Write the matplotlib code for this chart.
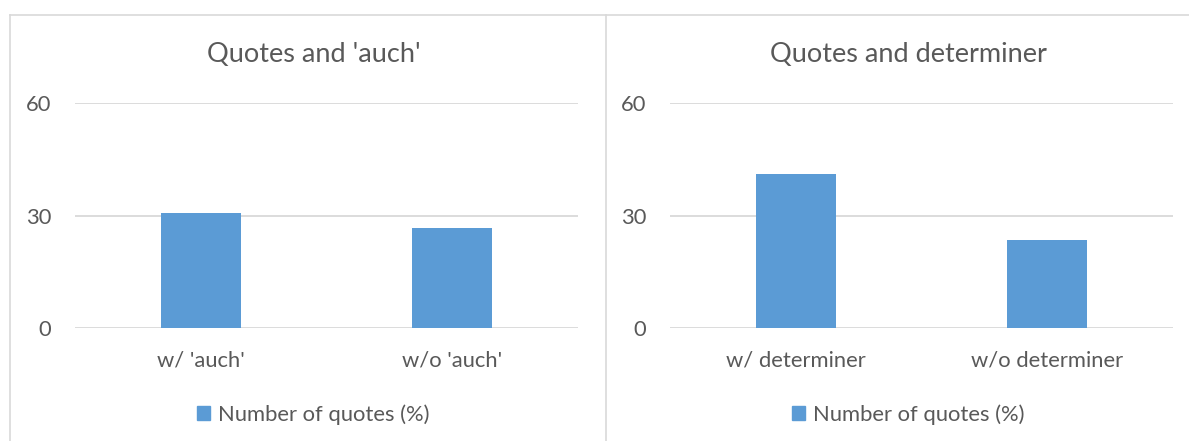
import matplotlib
matplotlib.use("Agg")
import matplotlib.pyplot as plt
from matplotlib.lines import Line2D
from matplotlib.patches import Patch

# data
titles = ["Quotes and 'auch'", "Quotes and determiner"]
cats_auch = ["w/ 'auch'", "w/o 'auch'"]
vals_auch = [30.7, 26.7]
cats_det = ["w/ determiner", "w/o determiner"]
vals_det = [41.1, 23.5]
yticks = [0, 30, 60]
series_name = "Number of quotes (%)"

BAR = "#5b9bd5"
GRID = "#d9d9d9"
TXT = "#595959"
FONT = "Lato"

W, H = 1189, 441
fig = plt.figure(figsize=(W / 100, H / 100), dpi=100)

def px(x0, y0, x1, y1):
    # pixel box (top-left origin) -> figure fraction rect
    return [x0 / W, 1 - y1 / H, (x1 - x0) / W, (y1 - y0) / H]

def panel(rect, title, cats, vals):
    ax = fig.add_axes(rect)
    ax.bar(range(len(cats)), vals, width=0.32, color=BAR, zorder=3)
    ax.set_xlim(-0.5, len(cats) - 0.5)
    ax.set_ylim(0, 60)
    ax.set_yticks(yticks)
    ax.set_xticks(range(len(cats)))
    ax.set_xticklabels(cats)
    ax.yaxis.grid(True, color=GRID, lw=1.3, zorder=0)
    ax.set_axisbelow(True)
    for s in ax.spines.values():
        s.set_visible(False)
    ax.tick_params(length=0, labelcolor=TXT, labelsize=15.8)
    ax.tick_params(axis="y", pad=17)
    ax.tick_params(axis="x", pad=16.5)
    for lab in ax.get_xticklabels() + ax.get_yticklabels():
        lab.set_family(FONT)
    # title and legend are centred on the chart area, a bit left of the plot
    ax.set_title(title, color=TXT, fontsize=19.5, family=FONT, pad=29.5,
                 x=0.474)
    leg = ax.legend([Patch(color=BAR)], [series_name], loc="upper center",
                    bbox_to_anchor=(0.474, -0.29), frameon=False,
                    handlelength=0.6, handleheight=0.6, handletextpad=0.36,
                    borderpad=0, prop={"family": FONT, "size": 15.8})
    for t in leg.get_texts():
        t.set_color(TXT)
    return ax

panel(px(75, 103, 578, 328), titles[0], cats_auch, vals_auch)
panel(px(670, 103, 1173, 328), titles[1], cats_det, vals_det)

# chart-area borders
def fline(xs, ys):
    fig.add_artist(Line2D([x / W for x in xs], [1 - y / H for y in ys],
                          color=GRID, lw=1.2))

fline([10, W], [15, 15])
fline([10, 10], [15, H])
fline([606, 606], [15, H])

fig.savefig("out.png", dpi=100, facecolor="white")
